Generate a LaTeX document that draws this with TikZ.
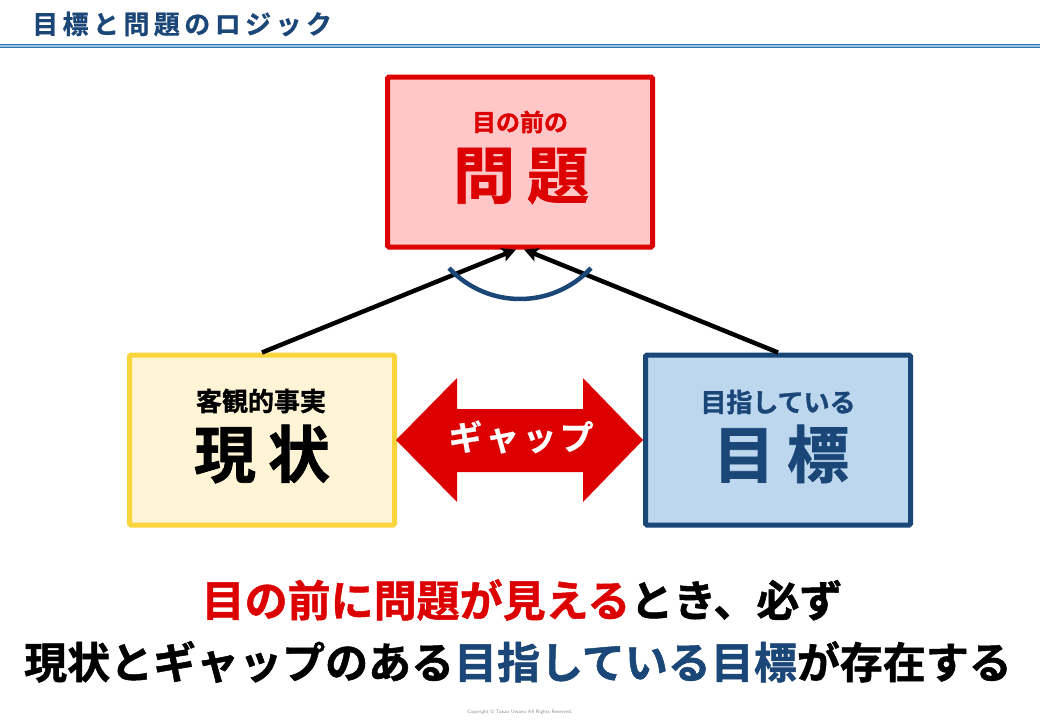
\documentclass[tikz,border=0pt]{standalone}
\usepackage{fontspec}
\newfontfamily\jp[BoldFont={* Bold}]{Noto Sans CJK JP}
\newfontfamily\jph[BoldFont={* Bold},BoldFeatures={FakeBold=1.2}]{Noto Sans CJK JP}
\newfontfamily\jpsp[BoldFont={* Bold},BoldFeatures={FakeBold=0.8},LetterSpace=17]{Noto Sans CJK JP}
\newfontfamily\jpgap[BoldFont={* Bold},BoldFeatures={FakeBold=0.6},LetterSpace=9]{Noto Sans CJK JP}
\usetikzlibrary{arrows.meta}
\definecolor{pred}{HTML}{DD0000}
\definecolor{pfill}{HTML}{FFC7C7}
\definecolor{yborder}{HTML}{F9D43C}
\definecolor{yfill}{HTML}{FFF5D6}
\definecolor{dblue}{HTML}{1A4678}
\definecolor{bfill}{HTML}{BDD7EE}
\definecolor{hblue}{HTML}{2E75B6}
\definecolor{hlight}{HTML}{9DC3E6}
\tikzset{
  box/.style={draw, line width=5pt, rounded corners=1.5pt, minimum width=265pt, minimum height=170pt, inner sep=0pt},
  conn/.style={draw=black, line width=4.5pt, -{Stealth[length=14pt,width=14pt,inset=3pt]}},
  small/.style={font=\jph\bfseries\fontsize{26}{26}\selectfont, inner sep=0pt},
  big/.style={font=\jph\bfseries\fontsize{62}{62}\selectfont, inner sep=0pt},
  msg/.style={font=\jph\bfseries\fontsize{43}{43}\selectfont, inner sep=0pt}
}
\begin{document}
\begin{tikzpicture}[x=1pt,y=-1pt]
\useasboundingbox (0,0) rectangle (1040,720);
\fill[white] (0,0) rectangle (1040,720);
% header
\node[anchor=west, inner sep=0pt, text=dblue, font=\jpsp\bfseries\fontsize{26}{26}\selectfont] (title) at (32,24) {目標と問題のロジック};
\fill[hblue] (0,43.5) rectangle (1040,48);
\fill[hlight] (0,44.8) rectangle (1040,46.7);
% boxes
\node[box, draw=pred, fill=pfill] (top) at (520,162) {};
\node[box, draw=yborder, fill=yfill] (lb) at (262,440) {};
\node[box, draw=dblue, fill=bfill] (rb) at (778,440) {};
% connectors
\draw[conn] (lb.north) -- ([xshift=-4pt]top.south);
\draw[conn] (rb.north) -- ([xshift=4pt]top.south);
\draw[dblue, line width=4.5pt] plot[domain=137:43, samples=40] ({520+97*cos(\x)},{202+97*sin(\x)});
% box texts
\node[small, text=pred, font=\jph\bfseries\fontsize{24}{24}\selectfont] (t1) at (520,122) {目の前の};
\node[big, text=pred] (t2) at (521,176) {問\hspace{12pt}題};
\node[small, text=black] (l1) at (261,401) {客観的事実};
\node[big, text=black] (l2) at (262,454) {現\hspace{12pt}状};
\node[small, text=dblue] (r1) at (778,402) {目指している};
\node[big, text=dblue] (r2) at (781,454) {目\hspace{12pt}標};
% gap arrow
\fill[pred] (396,440) -- (457,378) -- (457,409) -- (583,409) -- (583,378) -- (643,440) -- (583,502) -- (583,472) -- (457,472) -- (457,502) -- cycle;
\node[inner sep=0pt, text=white, font=\jpgap\bfseries\fontsize{34}{34}\selectfont] (gap) at (521,437) {ギャップ};
% message
\node[msg] (m1) at (522,600) {\textcolor{pred}{目の前に問題が見える}とき、必ず};
\node[msg] (m2) at (518,662) {現状とギャップのある\textcolor{dblue}{目指している目標}が存在する};
\node[inner sep=0pt, text=black!45, font=\sffamily\fontsize{5}{5}\selectfont] (copy) at (520,712) {Copyright © Takao Uwano All Rights Reserved.};
\end{tikzpicture}
\end{document}
